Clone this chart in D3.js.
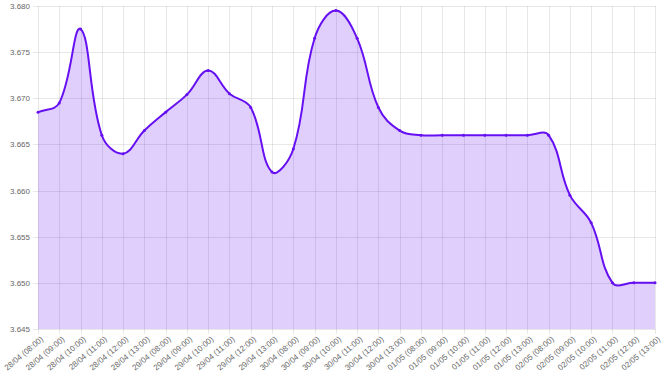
<!DOCTYPE html>
<html>
<head>
<meta charset="utf-8">
<script src="https://cdn.jsdelivr.net/npm/d3@7"></script>
<style>
  html, body { margin: 0; padding: 0; background: #fff; }
  svg { display: block; }
</style>
</head>
<body>
<svg id="chart" width="661" height="376"></svg>
<script>
const categories = [
  "28/04 (08:00)", "28/04 (09:00)", "28/04 (10:00)", "28/04 (11:00)", "28/04 (12:00)", "28/04 (13:00)",
  "29/04 (08:00)", "29/04 (09:00)", "29/04 (10:00)", "29/04 (11:00)", "29/04 (12:00)", "29/04 (13:00)",
  "30/04 (08:00)", "30/04 (09:00)", "30/04 (10:00)", "30/04 (11:00)", "30/04 (12:00)", "30/04 (13:00)",
  "01/05 (08:00)", "01/05 (09:00)", "01/05 (10:00)", "01/05 (11:00)", "01/05 (12:00)", "01/05 (13:00)",
  "02/05 (08:00)", "02/05 (09:00)", "02/05 (10:00)", "02/05 (11:00)", "02/05 (12:00)", "02/05 (13:00)"
];
const values = [
  3.6685, 3.6695, 3.6775, 3.6660, 3.6640, 3.6665,
  3.6685, 3.6704, 3.6730, 3.6705, 3.6690, 3.6620,
  3.6645, 3.6765, 3.6795, 3.6765, 3.6690, 3.6665,
  3.6660, 3.6660, 3.6660, 3.6660, 3.6660, 3.6660,
  3.6660, 3.6595, 3.6565, 3.6500, 3.6500, 3.6500
];
const yTicks = [3.645, 3.650, 3.655, 3.660, 3.665, 3.670, 3.675, 3.680];

(function () {
const svg = d3.select("#chart");
const mLeft = 38, mRight = 655, mTop = 6, mBottom = 329;
const x = d3.scalePoint().domain(categories).range([mLeft, mRight]);
const y = d3.scaleLinear().domain([3.645, 3.680]).range([mBottom, mTop]);

const gridColor = "rgba(0,0,0,0.09)";
const font = "'Liberation Sans', Arial, Helvetica, sans-serif";

// horizontal grid + y labels
const gy = svg.append("g");
yTicks.forEach(t => {
  gy.append("line").attr("x1", mLeft - 5).attr("x2", mRight + 1)
    .attr("y1", Math.round(y(t)) + 0.5).attr("y2", Math.round(y(t)) + 0.5)
    .attr("stroke", gridColor).attr("stroke-width", 1);
  gy.append("text").attr("x", mLeft - 8).attr("y", y(t) + 3)
    .attr("text-anchor", "end").attr("font-family", font).attr("font-size", 8)
    .attr("fill", "#666").text(d3.format(".3f")(t));
});
// vertical grid + x labels
const gx = svg.append("g");
categories.forEach(c => {
  const xx = Math.round(x(c)) + 0.5;
  gx.append("line").attr("x1", xx).attr("x2", xx).attr("y1", mTop).attr("y2", mBottom + 5)
    .attr("stroke", gridColor).attr("stroke-width", 1);
  gx.append("text")
    .attr("transform", `translate(${x(c) + 4},${mBottom + 9}) rotate(-40)`)
    .attr("text-anchor", "end").attr("dy", "0.35em")
    .attr("font-family", font).attr("font-size", 8).attr("fill", "#666").text(c);
});

// Chart.js-like bezier spline (tension 0.4)
const pts = categories.map((c, i) => ({ x: x(c), y: y(values[i]) }));
const tension = 0.4;
pts.forEach((p, i) => {
  const prev = pts[i - 1] || p, next = pts[i + 1] || p;
  const d01 = Math.hypot(p.x - prev.x, p.y - prev.y);
  const d12 = Math.hypot(next.x - p.x, next.y - p.y);
  let s01 = d01 / (d01 + d12), s12 = d12 / (d01 + d12);
  if (isNaN(s01)) s01 = 0; if (isNaN(s12)) s12 = 0;
  const fa = tension * s01, fb = tension * s12;
  p.cpPrev = { x: p.x - fa * (next.x - prev.x), y: Math.max(mTop, Math.min(mBottom, p.y - fa * (next.y - prev.y))) };
  p.cpNext = { x: p.x + fb * (next.x - prev.x), y: Math.max(mTop, Math.min(mBottom, p.y + fb * (next.y - prev.y))) };
});
function linePath(ctx) {
  ctx.moveTo(pts[0].x, pts[0].y);
  for (let i = 1; i < pts.length; i++) {
    const a = pts[i - 1], b = pts[i];
    ctx.bezierCurveTo(a.cpNext.x, a.cpNext.y, b.cpPrev.x, b.cpPrev.y, b.x, b.y);
  }
  return ctx;
}
const lp = linePath(d3.path());
const ap = linePath(d3.path());
ap.lineTo(pts[pts.length - 1].x, mBottom);
ap.lineTo(pts[0].x, mBottom);
ap.closePath();

svg.append("path").attr("d", ap.toString()).attr("fill", "rgba(102,16,242,0.2)");
svg.append("path").attr("d", lp.toString()).attr("fill", "none")
  .attr("stroke", "#6610f2").attr("stroke-width", 2);
svg.append("g").selectAll("circle").data(pts).join("circle")
  .attr("cx", d => d.x).attr("cy", d => d.y).attr("r", 1.5).attr("fill", "#6610f2");
})();
</script>
</body>
</html>
